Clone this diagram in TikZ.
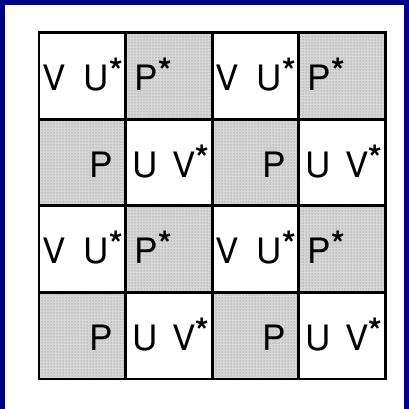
\documentclass[tikz,border=0pt]{standalone}
\usepackage{fontspec}
\setmainfont{TeX Gyre Heros}
\usetikzlibrary{patterns}

\definecolor{framenavy}{RGB}{0,0,136}
\definecolor{screen}{gray}{0.84}

\tikzset{
  plaincell/.style={inner sep=0pt, minimum size=86.5pt, anchor=north west, fill=white},
  screencell/.style={plaincell, fill=screen, postaction={pattern=dots, pattern color=black!55}},
  gridline/.style={draw=black, line width=2.4pt},
  letter/.style={inner sep=0pt, font=\fontsize{35}{35}\selectfont}
}
\newcommand{\upstar}{\raisebox{7pt}{\bfseries *}}

\begin{document}
\begin{tikzpicture}[x=1pt, y=-1pt]
\useasboundingbox (0,0) rectangle (409,409);

% navy frame round the page
\fill[framenavy] (0,0) rectangle (409,5);
\fill[framenavy] (0,0) rectangle (5,409);
\fill[framenavy] (404,0) rectangle (409,409);

% cells, shaded where row+column is odd
\foreach \r in {0,1,2,3}{
  \foreach \c in {0,1,2,3}{
    \pgfmathtruncatemacro{\odd}{mod(\r+\c,2)}
    \ifnum\odd=1 \def\look{screencell}\else\def\look{plaincell}\fi
    \node[\look] (c\r\c) at ({39+86.5*\c},{32.5+86.5*\r}) {};
  }
}

% grid lines
\foreach \r in {0,1,2,3}{
  \foreach \c in {0,1,2,3}{
    \draw[gridline] (c\r\c.north west) rectangle (c\r\c.south east);
  }
}

% letters
\foreach \r in {0,2}{
  \foreach \c in {0,2}{
    \pgfmathtruncatemacro{\d}{\c+1}
    \node[letter, anchor=base west] (v\r\c) at ([shift={(3,58)}]c\r\c.north west) {V};
    \node[letter, anchor=base east] (u\r\c) at ([shift={(84,58)}]c\r\c.north west) {U\upstar};
    \node[letter, anchor=base west] (p\r\d) at ([shift={(9,58)}]c\r\d.north west) {P\upstar};
  }
}
\foreach \r in {1,3}{
  \foreach \c in {0,2}{
    \pgfmathtruncatemacro{\d}{\c+1}
    \node[letter, anchor=base east] (p\r\c) at ([shift={(74,58)}]c\r\c.north west) {P};
    \node[letter, anchor=base west] (u\r\d) at ([shift={(7,58)}]c\r\d.north west) {U};
    \node[letter, anchor=base east] (v\r\d) at ([shift={(84,58)}]c\r\d.north west) {V\upstar};
  }
}

\end{tikzpicture}
\end{document}
